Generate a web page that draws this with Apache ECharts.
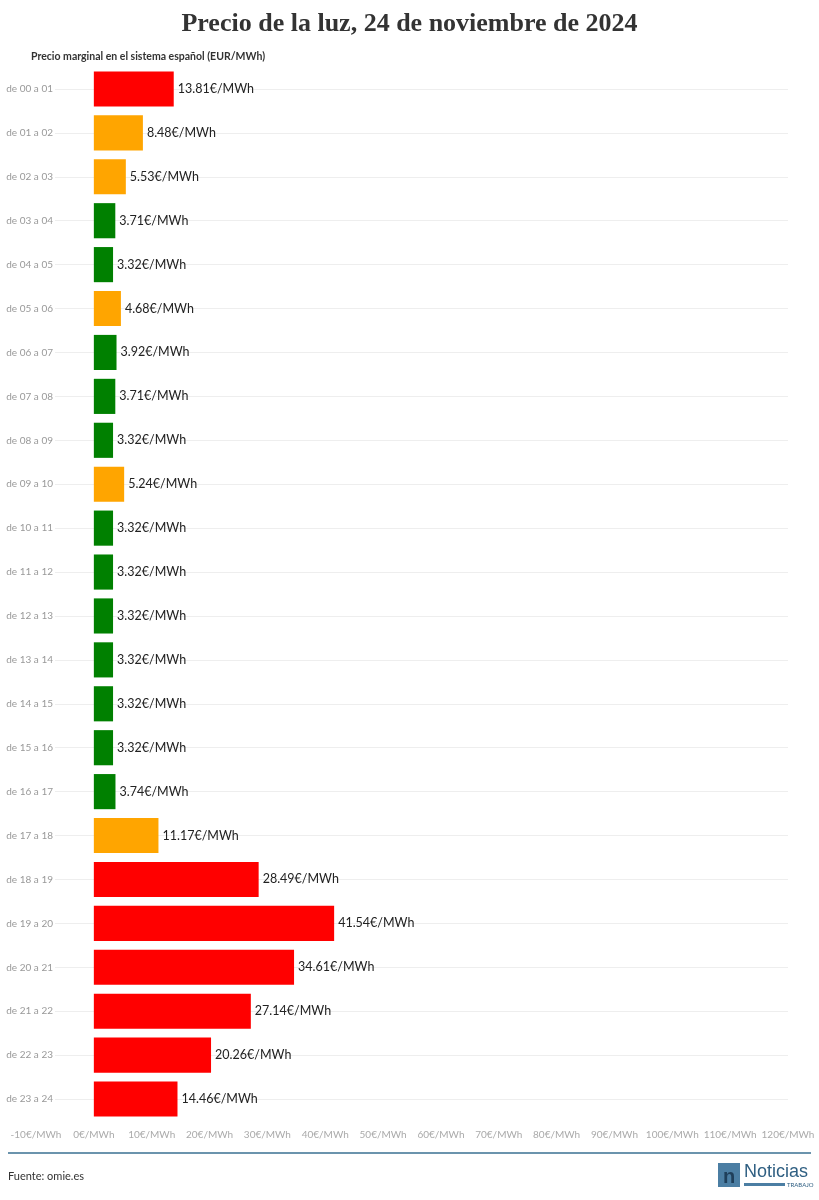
<!DOCTYPE html>
<html>
<head>
<meta charset="utf-8">
<script src="https://cdn.jsdelivr.net/npm/echarts@6/dist/echarts.min.js"></script>
<style>
html,body{margin:0;padding:0;background:#fff;}
#c{width:819px;height:1200px;}
</style>
</head>
<body>
<div id="c"></div>
<script>
var categories = ["de 00 a 01","de 01 a 02","de 02 a 03","de 03 a 04","de 04 a 05","de 05 a 06","de 06 a 07","de 07 a 08","de 08 a 09","de 09 a 10","de 10 a 11","de 11 a 12","de 12 a 13","de 13 a 14","de 14 a 15","de 15 a 16","de 16 a 17","de 17 a 18","de 18 a 19","de 19 a 20","de 20 a 21","de 21 a 22","de 22 a 23","de 23 a 24"];
var prices = [13.81,8.48,5.53,3.71,3.32,4.68,3.92,3.71,3.32,5.24,3.32,3.32,3.32,3.32,3.32,3.32,3.74,11.17,28.49,41.54,34.61,27.14,20.26,14.46];
var xMin = -10, xMax = 120, xStep = 10;

function colorFor(v){
  if (v >= 12) return '#ff0000';
  if (v >= 4.5) return '#ffa500';
  return '#008000';
}

var chart = echarts.init(document.getElementById('c'), null, {renderer:'canvas'});
var option = {
  backgroundColor:'#ffffff',
  animation:false,
  title:[{
    text:'Precio de la luz, 24 de noviembre de 2024',
    left:'center', top:6,
    textStyle:{fontFamily:'Liberation Serif', fontWeight:'bold', fontSize:26, color:'#333333'}
  },{
    text:'Precio marginal en el sistema español (EUR/MWh)',
    left:26, top:46,
    textStyle:{fontFamily:'Lato', fontWeight:'bold', fontSize:10.5, color:'#333333'}
  }],
  grid:{left:36, right:31, top:67, bottom:79, containLabel:false},
  xAxis:{
    type:'value', min:xMin, max:xMax, interval:xStep,
    axisLine:{show:false}, axisTick:{show:false}, splitLine:{show:false},
    axisLabel:{formatter:function(v){return v+'€/MWh';}, color:'#aaaaaa', fontSize:10, fontFamily:'Lato', margin:9}
  },
  yAxis:{
    type:'category', data:categories, inverse:true,
    axisLine:{show:false}, axisTick:{show:false, alignWithLabel:true},
    splitLine:{show:true, alignWithLabel:true, lineStyle:{color:'#eeeeee', width:1}},
    axisLabel:{color:'#999999', fontSize:10, fontFamily:'Lato', margin:-19, backgroundColor:'#ffffff', padding:[0,2,0,0]}
  },
  series:[{
    type:'bar',
    data:prices.map(function(v){return {value:v, itemStyle:{color:colorFor(v)}};}),
    barWidth:'80%',
    label:{show:true, position:'right', distance:4, formatter:function(p){return p.value.toFixed(2)+'€/MWh';}, color:'#222222', fontSize:12.5, fontFamily:'Lato'}
  }],
  graphic:[
    {type:'rect', shape:{x:8, y:1152, width:803, height:2}, style:{fill:'#6b94ad'}},
    {type:'text', left:8, top:1171, style:{text:'Fuente: omie.es', fill:'#333333', fontSize:11, fontFamily:'Lato'}},
    {type:'rect', shape:{x:718, y:1163, width:22, height:24}, style:{fill:'#4b7ea3'}},
    {type:'text', x:729, y:1177, style:{text:'n', fill:'#1f3f5a', fontSize:20, fontFamily:'Liberation Sans', fontWeight:'bold', align:'center', verticalAlign:'middle'}},
    {type:'text', x:744, y:1172, style:{text:'Noticias', fill:'#2f5f82', fontSize:18, fontFamily:'Liberation Sans', verticalAlign:'middle'}},
    {type:'rect', shape:{x:744, y:1183, width:41, height:3}, style:{fill:'#4b7ea3'}},
    {type:'text', x:787, y:1185, style:{text:'TRABAJO', fill:'#2f5f82', fontSize:6, fontFamily:'Lato', verticalAlign:'middle'}}
  ]
};
chart.setOption(option);
</script>
</body>
</html>
